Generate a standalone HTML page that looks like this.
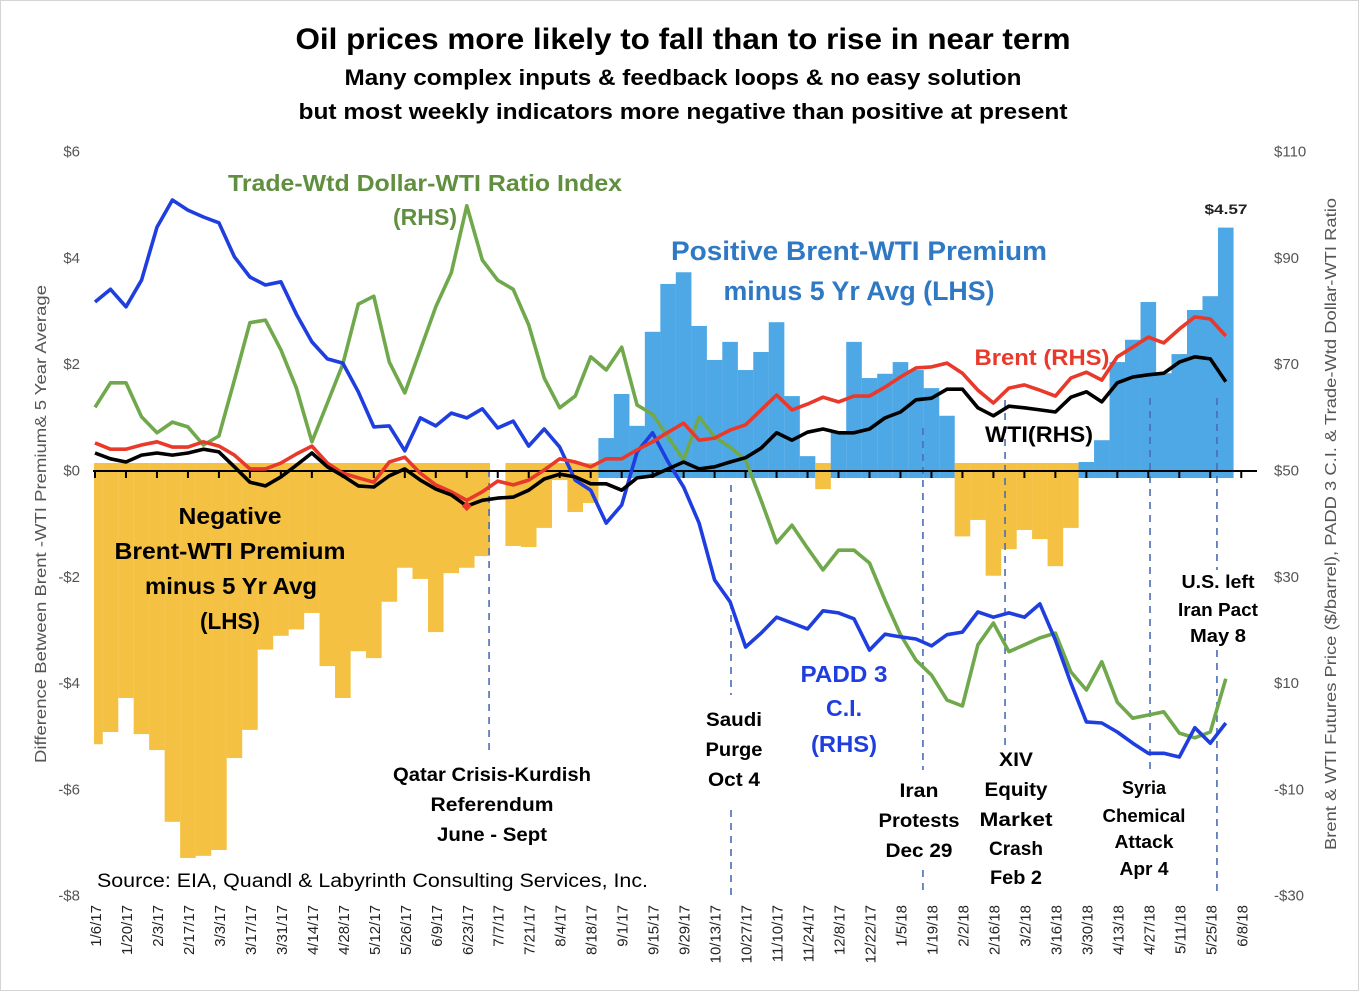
<!DOCTYPE html>
<html><head><meta charset="utf-8">
<style>
html,body{margin:0;padding:0;background:#fff;}
svg{display:block;font-family:"Liberation Sans",Arial,sans-serif;}
.b{font-weight:bold;}
</style></head>
<body>
<svg id="chart" width="1368" height="992" viewBox="0 0 1368 992" xmlns="http://www.w3.org/2000/svg">
<rect x="0.5" y="0.5" width="1358" height="990" fill="#fff" stroke="#d4d4d4"/>
<g id="bars"></g>
<g id="dashes"></g>
<g id="axes"></g>
<g id="lines"></g>
<g id="texts"></g>
</svg>
<script>
const dates = ["1/6/17","1/13/17","1/20/17","1/27/17","2/3/17","2/10/17","2/17/17","2/24/17","3/3/17","3/10/17","3/17/17","3/24/17","3/31/17","4/7/17","4/14/17","4/21/17","4/28/17","5/5/17","5/12/17","5/19/17","5/26/17","6/2/17","6/9/17","6/16/17","6/23/17","6/30/17","7/7/17","7/14/17","7/21/17","7/28/17","8/4/17","8/11/17","8/18/17","8/25/17","9/1/17","9/8/17","9/15/17","9/22/17","9/29/17","10/6/17","10/13/17","10/20/17","10/27/17","11/3/17","11/10/17","11/17/17","11/24/17","12/1/17","12/8/17","12/15/17","12/22/17","12/29/17","1/5/18","1/12/18","1/19/18","1/26/18","2/2/18","2/9/18","2/16/18","2/23/18","3/2/18","3/9/18","3/16/18","3/23/18","3/30/18","4/6/18","4/13/18","4/20/18","4/27/18","5/4/18","5/11/18","5/18/18","5/25/18","6/1/18","6/8/18"];
const premium = [-5.15,-4.92,-4.28,-4.96,-5.26,-6.61,-7.29,-7.25,-7.14,-5.41,-4.88,-3.37,-3.11,-2.99,-2.68,-3.68,-4.28,-3.40,-3.53,-2.47,-1.83,-2.04,-3.04,-1.93,-1.83,-1.61,0,-1.42,-1.44,-1.08,-0.18,-0.78,-0.61,0.61,1.44,0.84,2.61,3.51,3.73,2.72,2.08,2.42,1.89,2.23,2.79,1.40,0.27,-0.35,0.72,2.42,1.74,1.82,2.04,1.89,1.55,1.03,-1.24,-0.93,-1.98,-1.48,-1.12,-1.29,-1.80,-1.08,0.16,0.57,2.04,2.46,3.17,1.83,2.19,3.02,3.28,4.57];
const brent = [55.2,54.0,54.0,54.8,55.4,54.4,54.4,55.4,54.6,52.9,50.3,50.3,51.4,53.1,54.6,51.4,49.5,48.6,47.8,51.6,52.5,49.5,47.3,46.0,44.4,46.0,48.0,47.3,48.2,50.1,52.2,51.6,50.7,52.2,52.2,53.9,55.4,57.2,58.9,55.7,56.1,57.6,58.6,61.4,64.2,61.4,62.5,63.8,62.9,64.0,64.0,65.7,67.6,69.3,69.5,70.2,68.3,65.1,62.7,65.5,66.1,65.1,64.0,67.4,68.5,67.0,71.4,73.2,75.1,74.0,76.6,78.9,78.5,75.3];
const wti = [53.3,52.2,51.6,52.9,53.3,52.9,53.3,54.0,53.5,50.7,47.8,47.1,48.8,51.0,53.3,50.7,49.0,47.1,46.9,49.0,50.3,48.2,46.5,45.4,43.3,44.4,44.8,45.0,46.3,48.4,49.3,48.8,47.5,47.5,46.3,48.6,49.0,50.3,51.6,50.3,50.7,51.6,52.4,54.2,57.1,55.7,57.2,57.8,57.1,57.1,57.8,59.9,61.0,63.3,63.6,65.3,65.3,61.8,60.3,62.1,61.8,61.4,61.0,63.8,64.8,62.9,66.5,67.6,68.0,68.3,70.4,71.4,71.0,66.7];
const padd3 = [81.7,84.1,80.8,85.8,95.8,100.9,99.0,97.7,96.6,90.2,86.4,84.9,85.5,79.4,74.2,71.0,70.2,64.8,58.2,58.4,53.7,59.9,58.4,60.8,59.9,61.6,58.0,59.3,54.6,57.8,54.4,48.2,46.3,40.1,43.5,53.5,57.1,51.6,46.9,40.1,29.4,25.3,16.8,19.4,22.4,21.3,20.2,23.6,23.2,22.1,16.2,19.2,18.7,18.3,17.0,19.1,19.6,23.4,22.4,23.2,22.4,24.9,18.1,10.0,2.7,2.5,0.8,-1.3,-3.2,-3.2,-3.9,1.6,-1.3,2.5];
const ratio = [61.9,66.5,66.5,60.1,57.1,59.1,58.2,54.8,56.5,67.0,77.8,78.3,72.7,65.5,55.4,62.7,70.0,81.3,82.8,70.4,64.6,72.7,80.8,87.2,99.8,89.6,85.8,84.1,77.4,67.4,61.8,64.0,71.4,68.9,73.2,62.3,60.6,56.3,52.0,60.1,56.3,54.4,52.0,44.4,36.4,39.7,35.4,31.3,35.0,35.0,32.6,25.6,19.1,14.3,11.5,6.8,5.7,17.2,21.3,15.9,17.2,18.5,19.4,12.1,8.7,14.0,6.4,3.4,4.0,4.6,0.6,-0.3,0.8,10.8];
const leftTicks = [6,4,2,0,-2,-4,-6,-8];
const leftTickLabels = ["$6","$4","$2","$0","-$2","-$4","-$6","-$8"];
const rightTicks = [110,90,70,50,30,10,-10,-30];
const rightTickLabels = ["$110","$90","$70","$50","$30","$10","-$10","-$30"];
const eventIdx = [25.44,41.06,53.45,58.75,68.11,72.43];

const NS = "http://www.w3.org/2000/svg";
function xOf(i){ return 95 + 15.49*i; }
function yL(v){ return 470.5 - 53.15*v; }
function yR(v){ return 470.5 - 5.315*(v-50); }
function mk(tag, attrs, parent){
  const e = document.createElementNS(NS, tag);
  for (const k in attrs) e.setAttribute(k, attrs[k]);
  parent.appendChild(e); return e;
}
const gBars = document.getElementById('bars');
const gAxes = document.getElementById('axes');
const gLines = document.getElementById('lines');
const gDash = document.getElementById('dashes');
const gText = document.getElementById('texts');

premium.forEach((v,i)=>{
  if (v === 0) return;
  let x0 = Math.max(94, xOf(i)-7.8), x1 = xOf(i)+7.8;
  let y, h, fill;
  if (v < 0){ y = 463; h = yL(v)-463; fill = "#f4c142"; }
  else { y = yL(v); h = 478 - yL(v); fill = "#4fa8e6"; }
  const r = mk('rect', {x:x0, y:y, width:x1-x0, height:h, fill:fill}, gBars);
  
  
});

const dashSegs = [[[470,750]],[[485,695],[810,895]],[[428,770],[870,895]],[[400,745]],[[398,770]],[[398,570],[650,895]]];
eventIdx.forEach((ix,k)=>{
  dashSegs[k].forEach(s=>{
    const l = mk('line', {x1:xOf(ix), x2:xOf(ix), y1:s[0], y2:s[1], stroke:"#4a6db4", "stroke-width":1.6, "stroke-dasharray":"7,6"}, gDash);
    
    
  });
});

const ax = mk('line', {x1:93, x2:1257, y1:471, y2:471, stroke:"#000", "stroke-width":2}, gAxes);


dates.forEach((d,i)=>{
  if (i % 2) return;
  const t = mk('line', {x1:xOf(i), x2:xOf(i), y1:471, y2:478, stroke:"#000", "stroke-width":2}, gAxes);
  
  
  const lb = mk('text', {x:0, y:0, transform:`translate(${xOf(i)+6},905) rotate(-90)`, "text-anchor":"end", "font-size":15, fill:"#222"}, gAxes);
  lb.textContent = d;
  
  
});
leftTicks.forEach((v,k)=>{
  const t = mk('text', {x:80, y:yL(v)+5, "text-anchor":"end", "font-size":15, fill:"#555"}, gAxes);
  t.textContent = leftTickLabels[k];
  
  
});
rightTicks.forEach((v,k)=>{
  const t = mk('text', {x:1274, y:yR(v)+5, "text-anchor":"start", "font-size":15, fill:"#555"}, gAxes);
  t.textContent = rightTickLabels[k];
  
  
});

function drawLine(arr, color, name){
  const pts = arr.map((v,i)=>xOf(i).toFixed(1)+","+yR(v).toFixed(1)).join(" ");
  const p = mk('polyline', {points:pts, fill:"none", stroke:color, "stroke-width":3.6, "stroke-linejoin":"round"}, gLines);
  
  
}
drawLine(ratio, "#70a84c", "dollar-wti-ratio-line");
drawLine(padd3, "#1f3ee0", "padd3-line");
drawLine(brent, "#e8392b", "brent-line");
drawLine(wti, "#000000", "wti-line");
let mi = 0; wti.forEach((v,i)=>{ if (v < wti[mi]) mi = i; });
const dm = mk('path', {d:`M${xOf(mi)},${yR(wti[mi])-5} l5,5 l-5,5 l-5,-5 z`, fill:"#e8392b"}, gLines);



const T = [
 ["Oil prices more likely to fall than to rise in near term",683,49,30,"#000",775,"chart-title"],
 ["Many complex inputs & feedback loops & no easy solution",683,85,22,"#000",677,"chart-subtitle-1"],
 ["but most weekly indicators more negative than positive at present",683,119,22,"#000",769,"chart-subtitle-2"],
 ["Trade-Wtd Dollar-WTI Ratio Index",425,191,23,"#5f8f3f",394,"ratio-series-label"],
 ["(RHS)",425,225,23,"#5f8f3f",64,"ratio-series-label-rhs"],
 ["Positive Brent-WTI Premium",859,260,27,"#2e78c4",376,"positive-premium-label"],
 ["minus 5 Yr Avg (LHS)",859,300,27,"#2e78c4",271,"positive-premium-label-2"],
 ["Brent (RHS)",1042,365,22,"#e8392b",135,"brent-series-label"],
 ["WTI(RHS)",1039,442,22,"#000",108,"wti-series-label"],
 ["Negative",230,524,23,"#000",103,"negative-premium-label"],
 ["Brent-WTI Premium",230,559,23,"#000",231,"negative-premium-label-2"],
 ["minus 5 Yr Avg",231,594,23,"#000",172,"negative-premium-label-3"],
 ["(LHS)",230,629,23,"#000",60,"negative-premium-label-4"],
 ["PADD 3",844,682,23,"#1f3ee0",87,"padd3-series-label"],
 ["C.I.",844,716,23,"#1f3ee0",36,"padd3-series-label-2"],
 ["(RHS)",844,752,23,"#1f3ee0",66,"padd3-series-label-3"],
 ["Saudi",734,726,19,"#000",56,"saudi-event-label"],
 ["Purge",734,756,19,"#000",57,"saudi-event-label-2"],
 ["Oct 4",734,786,19,"#000",52,"saudi-event-label-3"],
 ["Qatar Crisis-Kurdish",492,781,19,"#000",198,"qatar-event-label"],
 ["Referendum",492,811,19,"#000",123,"qatar-event-label-2"],
 ["June - Sept",492,841,19,"#000",110,"qatar-event-label-3"],
 ["Iran",919,797,19,"#000",39,"iran-event-label"],
 ["Protests",919,827,19,"#000",81,"iran-event-label-2"],
 ["Dec 29",919,857,19,"#000",67,"iran-event-label-3"],
 ["XIV",1016,766,19,"#000",34,"xiv-event-label"],
 ["Equity",1016,796,19,"#000",63,"xiv-event-label-2"],
 ["Market",1016,826,19,"#000",73,"xiv-event-label-3"],
 ["Crash",1016,855,19,"#000",54,"xiv-event-label-4"],
 ["Feb 2",1016,884,19,"#000",52,"xiv-event-label-5"],
 ["Syria",1144,794,18,"#000",44,"syria-event-label"],
 ["Chemical",1144,822,18,"#000",83,"syria-event-label-2"],
 ["Attack",1144,848,18,"#000",59,"syria-event-label-3"],
 ["Apr 4",1144,875,18,"#000",49,"syria-event-label-4"],
 ["U.S. left",1218,588,18,"#000",73,"iran-pact-event-label"],
 ["Iran Pact",1218,616,18,"#000",80,"iran-pact-event-label-2"],
 ["May 8",1218,642,18,"#000",56,"iran-pact-event-label-3"],
 ["$4.57",1226,214,14,"#222",43,"last-value-label"]
];
T.forEach(a=>{
  const t = mk('text', {x:a[1], y:a[2], "text-anchor":"middle", "font-size":a[3], fill:a[4], "font-weight":"bold", textLength:a[5], lengthAdjust:"spacingAndGlyphs"}, gText);
  t.textContent = a[0];
  
  
});
const src = mk('text', {x:97, y:887, "font-size":19, fill:"#000", textLength:551, lengthAdjust:"spacingAndGlyphs"}, gText);
src.textContent = "Source: EIA, Quandl & Labyrinth Consulting Services, Inc.";


const lt = mk('text', {x:0, y:0, transform:"translate(46,524) rotate(-90)", "text-anchor":"middle", "font-size":16, fill:"#555", textLength:478, lengthAdjust:"spacingAndGlyphs"}, gText);
lt.textContent = "Difference Between Brent -WTI  Premium& 5 Year Average";


const rt = mk('text', {x:0, y:0, transform:"translate(1336,524) rotate(-90)", "text-anchor":"middle", "font-size":16, fill:"#555", textLength:652, lengthAdjust:"spacingAndGlyphs"}, gText);
rt.textContent = "Brent  & WTI Futures Price ($/barrel), PADD 3 C.I.  & Trade-Wtd Dollar-WTI Ratio";


</script>
</body></html>
